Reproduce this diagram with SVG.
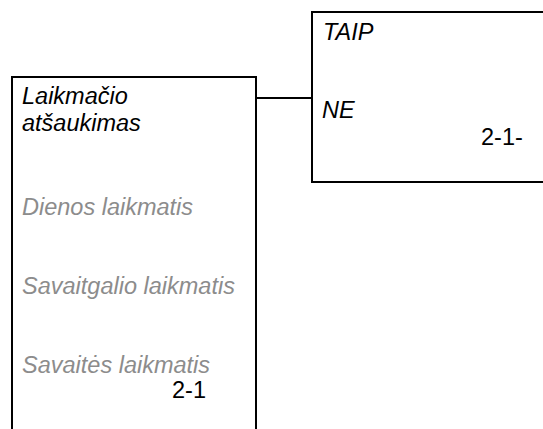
<svg xmlns="http://www.w3.org/2000/svg" width="543" height="429" viewBox="0 0 543 429">
<style>
.box{fill:#fff;stroke:#000;stroke-width:2}
.t{font-family:"Liberation Sans",Arial,sans-serif;font-size:23.5px;font-style:italic;fill:#000}
.g{fill:#8c8c8c}
.n{font-family:"Liberation Sans",Arial,sans-serif;font-size:23.5px;fill:#000}
.c{fill:none;stroke:#000;stroke-width:2}
</style>
<rect width="543" height="429" fill="#fff"/>
<g id="connectors">
<path class="c" d="M256 98 H312"/>
</g>
<g id="node-left">
<rect class="box" x="12" y="77" width="244" height="380"/>
<text class="t" x="22" y="104">Laikmačio</text>
<text class="t" x="22" y="131">atšaukimas</text>
<text class="t g" x="22" y="215">Dienos laikmatis</text>
<text class="t g" x="22" y="294">Savaitgalio laikmatis</text>
<text class="t g" x="22" y="373">Savaitės laikmatis</text>
<text class="n" x="172" y="398">2-1</text>
</g>
<g id="node-right">
<rect class="box" x="312" y="12" width="260" height="170"/>
<text class="t" x="323" y="40">TAIP</text>
<text class="t" x="322" y="118">NE</text>
<text class="n" x="481" y="145">2-1-</text>
</g>
</svg>
